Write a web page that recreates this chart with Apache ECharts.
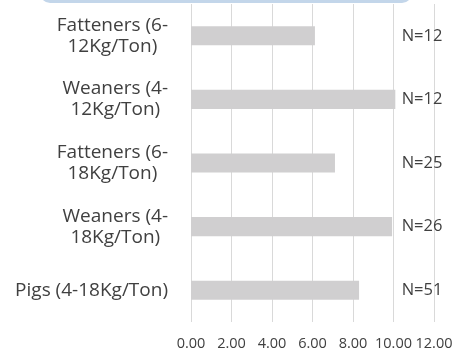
<!DOCTYPE html>
<html>
<head>
<meta charset="utf-8">
<script src="https://cdn.jsdelivr.net/npm/echarts@6/dist/echarts.min.js"></script>
<style>
  html, body { margin: 0; padding: 0; background: #ffffff; }
  #chart { width: 456px; height: 356px; }
</style>
</head>
<body>
<div id="chart"></div>
<script>
// Feed inclusion rates, listed bottom-to-top as the category axis draws them
const categories = [
  'Pigs (4-18Kg/Ton)',
  'Weaners (4-\n18Kg/Ton)',
  'Fatteners (6-\n18Kg/Ton)',
  'Weaners (4-\n12Kg/Ton)',
  'Fatteners (6-\n12Kg/Ton)'
];
const values = [8.3, 9.93, 7.11, 10.09, 6.12];
const sampleSizes = ['N=51', 'N=26', 'N=25', 'N=12', 'N=12'];
const xMin = 0, xMax = 12, xStep = 2;

const FONT = '"Open Sans", sans-serif';
const TEXT = '#404040';

const chart = echarts.init(document.getElementById('chart'), null, { renderer: 'canvas' });
chart.setOption({
  animation: false,
  backgroundColor: '#ffffff',
  graphic: [{
    type: 'rect',
    shape: { x: 40, y: -20, width: 372, height: 23, r: 10 },
    style: { fill: '#c3d6ea' },
    z: 10
  }],
  grid: { left: 191, right: 22, top: 4, bottom: 34, containLabel: false },
  xAxis: {
    type: 'value',
    min: xMin, max: xMax, interval: xStep,
    axisLine: { show: false },
    axisTick: { show: false },
    splitLine: { show: true, lineStyle: { color: '#d9d9d9', width: 1 } },
    axisLabel: {
      color: TEXT, fontFamily: FONT, fontSize: 14.5, margin: 14,
      formatter: v => v.toFixed(2)
    }
  },
  yAxis: [{
    type: 'category',
    data: categories,
    axisLine: { show: false },
    axisTick: { show: false },
    axisLabel: {
      color: TEXT, fontFamily: FONT, fontSize: 19, margin: 23, lineHeight: 21,
      align: 'right',
      formatter: v => v.split('\n').map(s => '{c|' + s + '}').join('\n'),
      rich: { c: { align: 'center', fontFamily: FONT, fontSize: 19, color: TEXT, lineHeight: 21 } }
    }
  }, {
    type: 'category',
    position: 'right',
    data: sampleSizes,
    axisLine: { show: false },
    axisTick: { show: false },
    axisLabel: {
      color: TEXT, fontFamily: FONT, fontSize: 16.5, margin: -12, align: 'center'
    }
  }],
  series: [{
    type: 'bar',
    data: values,
    barWidth: '30%',
    itemStyle: { color: '#d0cfd0' },
    silent: true
  }]
});
</script>
</body>
</html>
